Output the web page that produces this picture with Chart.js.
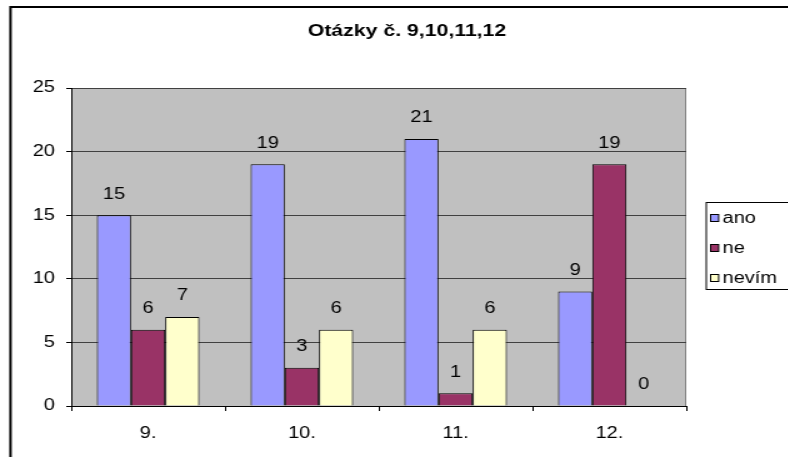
<!DOCTYPE html>
<html>
<head>
<meta charset="utf-8">
<script src="https://cdn.jsdelivr.net/npm/chart.js@4/dist/chart.umd.min.js"></script>
<style>
  html, body { margin: 0; padding: 0; background: #fff; overflow: hidden; }
  /* the original picture is stretched sideways, so the chart is too */
  #wrap { width: 631px; height: 457px; transform: scaleX(1.25); transform-origin: 0 0; }
</style>
</head>
<body>
<div id="wrap"><canvas id="chart" width="631" height="457"></canvas></div>
<script>
const categories = ['9.', '10.', '11.', '12.']
const ano = [15, 19, 21, 9]
const ne = [6, 3, 1, 19]
const nevim = [7, 6, 6, 0]
const seriesNames = ['ano', 'ne', 'nevím']
const seriesColors = ['#9999FF', '#993366', '#FFFFCC']
const titleText = 'Otázky č. 9,10,11,12'

const FONT = 'Arial, "Liberation Sans", sans-serif'

// frame, plot background, title, value labels, legend
const excelLook = {
  id: 'excelLook',
  beforeDraw(chart) {
    const c = chart.ctx
    const a = chart.chartArea
    c.save()
    c.fillStyle = '#fff'
    c.fillRect(0, 0, chart.width, chart.height)
    c.fillStyle = '#C0C0C0'
    c.fillRect(a.left, a.top, a.right - a.left, a.bottom - a.top)
    c.strokeStyle = '#808080'
    c.lineWidth = 1
    c.strokeRect(a.left + 0.5, a.top + 0.5, a.right - a.left - 1, a.bottom - a.top)
    // outer frame
    c.strokeStyle = '#000'
    c.lineWidth = 2
    c.beginPath()
    c.moveTo(8.4, chart.height)
    c.lineTo(8.4, 7)
    c.lineTo(chart.width, 7)
    c.stroke()
    // title
    c.fillStyle = '#000'
    c.font = 'bold 17px ' + FONT
    c.textAlign = 'center'
    c.textBaseline = 'middle'
    c.fillText(titleText, 325.6, 31)
    c.restore()
  },
  afterDatasetsDraw(chart) {
    const c = chart.ctx
    c.save()
    c.fillStyle = '#000'
    c.font = '16px ' + FONT
    c.textAlign = 'center'
    c.textBaseline = 'middle'
    chart.data.datasets.forEach((ds, i) => {
      chart.getDatasetMeta(i).data.forEach((bar, j) => {
        c.fillText(String(ds.data[j]), bar.x, bar.y - 21)
      })
    })
    // legend
    c.strokeStyle = '#000'
    c.lineWidth = 1
    c.strokeRect(565, 202.5, 100, 87)
    c.textAlign = 'left'
    chart.data.datasets.forEach((ds, i) => {
      const y = 218 + i * 30
      c.fillStyle = ds.backgroundColor
      c.fillRect(568.5, y - 3.5, 6.4, 7)
      c.strokeRect(568.5, y - 3.5, 6.4, 7)
      c.fillStyle = '#000'
      c.fillText(ds.label, 578, y + 1)
    })
    c.restore()
  }
}

new Chart(document.getElementById('chart'), {
  type: 'bar',
  data: {
    labels: categories,
    datasets: [ano, ne, nevim].map((d, i) => ({
      label: seriesNames[i],
      data: d,
      backgroundColor: seriesColors[i],
      borderColor: '#000',
      borderWidth: 1,
      categoryPercentage: 0.667,
      barPercentage: 1
    }))
  },
  options: {
    responsive: false,
    animation: false,
    layout: { padding: { left: 0, right: 82, top: 88, bottom: 0 } },
    plugins: {
      legend: { display: false },
      title: { display: false },
      tooltip: { enabled: false }
    },
    scales: {
      x: {
        grid: { drawOnChartArea: false, color: '#000', tickLength: 5, offset: true },
        border: { color: '#000', width: 1 },
        ticks: { color: '#000', font: { family: FONT, size: 16 }, padding: 13, maxRotation: 0 },
        afterFit(s) { s.height = 51 }
      },
      y: {
        min: 0,
        max: 25,
        ticks: { stepSize: 5, color: '#000', font: { family: FONT, size: 16 }, padding: 9 },
        grid: { color: '#404040', tickColor: '#000', tickLength: 4 },
        border: { color: '#000', width: 1 },
        afterFit(s) { s.width = 57 }
      }
    }
  },
  plugins: [excelLook]
})
</script>
</body>
</html>
